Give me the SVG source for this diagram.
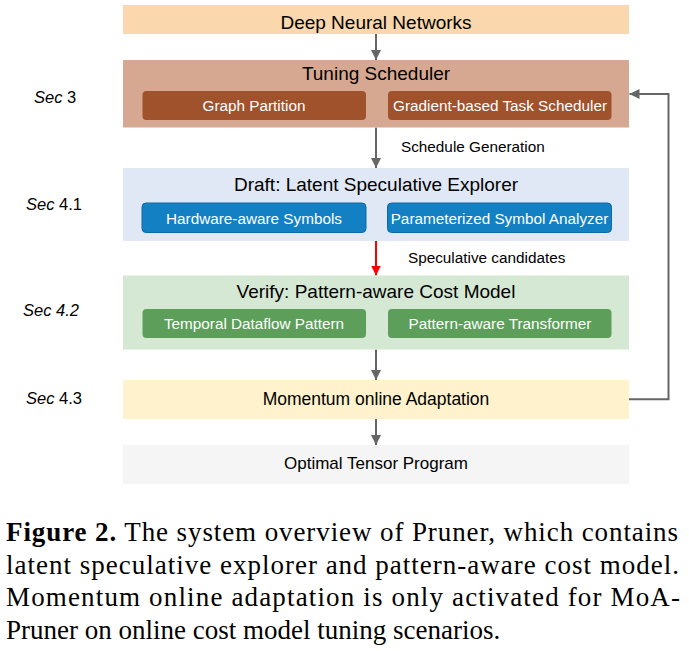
<svg xmlns="http://www.w3.org/2000/svg" width="689" height="651" viewBox="0 0 689 651">
<defs>
<style>
.t{font-family:"Liberation Sans",Arial,sans-serif;fill:#000;text-anchor:middle}
.title{font-size:19px}
.in{font-family:"Liberation Sans",Arial,sans-serif;font-size:15.3px;fill:#fff;text-anchor:middle}
.lbl{font-family:"Liberation Sans",Arial,sans-serif;font-size:15.3px;fill:#000}
.sec{font-family:"Liberation Sans",Arial,sans-serif;font-size:16.5px;fill:#000}
.cap{font-family:"Liberation Serif","Times New Roman",serif;font-size:27px;fill:#000}
.conn{stroke:#666;stroke-width:2;fill:none}
</style>
<marker id="ah" viewBox="0 0 10 10" refX="10" refY="5" markerWidth="5" markerHeight="5" orient="auto" markerUnits="strokeWidth">
<path d="M0,0 L10,5 L0,10 Z" fill="#666"/>
</marker>
<marker id="ahr" viewBox="0 0 10 10" refX="10" refY="5" markerWidth="5" markerHeight="5" orient="auto" markerUnits="strokeWidth">
<path d="M0,0 L10,5 L0,10 Z" fill="#f00"/>
</marker>
</defs>
<rect width="689" height="651" fill="#fff"/>

<g id="connectors">
<line class="conn" x1="376" y1="34" x2="376" y2="60" marker-end="url(#ah)"/>
<line class="conn" x1="376" y1="127.5" x2="376" y2="168" marker-end="url(#ah)"/>
<line x1="376" y1="241" x2="376" y2="275.5" stroke="#f00" stroke-width="2" marker-end="url(#ahr)"/>
<line class="conn" x1="376" y1="349.5" x2="376" y2="380" marker-end="url(#ah)"/>
<line class="conn" x1="376" y1="419" x2="376" y2="445" marker-end="url(#ah)"/>
<polyline class="conn" points="629,399.3 668.5,399.3 668.5,94 629.5,94" marker-end="url(#ah)"/>
<text class="lbl" x="401" y="152">Schedule Generation</text>
<text class="lbl" x="408" y="262.5">Speculative candidates</text>
</g>

<g id="dnn">
<rect x="123" y="5" width="506" height="29" fill="#FAD7AC"/>
<text class="t title" x="376" y="28.5">Deep Neural Networks</text>
</g>

<g id="tuning">
<rect x="123" y="60" width="506" height="67.5" fill="#D6A891"/>
<text class="t title" x="376" y="80">Tuning Scheduler</text>
<g id="graph-partition">
<rect x="142.5" y="91" width="223.5" height="29" rx="4" fill="#A0522D"/>
<text class="in" x="254" y="111">Graph Partition</text>
</g>
<g id="task-scheduler">
<rect x="388" y="91" width="223.5" height="29" rx="4" fill="#A0522D"/>
<text class="in" x="500" y="111">Gradient-based Task Scheduler</text>
</g>
</g>

<g id="draft">
<rect x="123" y="168" width="506" height="73" fill="#DFE8F4"/>
<text class="t title" x="376" y="191">Draft: Latent Speculative Explorer</text>
<g id="hw-symbols">
<rect x="142" y="203" width="224" height="29.5" rx="4" fill="#1380C4" stroke="#0E6AA6" stroke-width="1"/>
<text class="in" x="254" y="223.5">Hardware-aware Symbols</text>
</g>
<g id="symbol-analyzer">
<rect x="387.5" y="203" width="224" height="29.5" rx="4" fill="#1380C4" stroke="#0E6AA6" stroke-width="1"/>
<text class="in" x="499.5" y="223.5">Parameterized Symbol Analyzer</text>
</g>
</g>

<g id="verify">
<rect x="123" y="275.5" width="506" height="74" fill="#D5E8D4"/>
<text class="t title" x="376" y="298">Verify: Pattern-aware Cost Model</text>
<g id="dataflow">
<rect x="142.5" y="309" width="223.5" height="29" rx="4" fill="#5C9E5A"/>
<text class="in" x="254" y="329.3">Temporal Dataflow Pattern</text>
</g>
<g id="transformer">
<rect x="388" y="309" width="223.5" height="29" rx="4" fill="#5C9E5A"/>
<text class="in" x="500" y="329.3">Pattern-aware Transformer</text>
</g>
</g>

<g id="momentum">
<rect x="123" y="380" width="506" height="39" fill="#FFF2CC"/>
<text class="t" x="376" y="405" font-size="17.5">Momentum online Adaptation</text>
</g>

<g id="optimal">
<rect x="123" y="445" width="506" height="39" fill="#F5F5F5"/>
<text class="t" x="376" y="469" font-size="17">Optimal Tensor Program</text>
</g>

<g id="sections">
<text class="sec" x="34" y="103"><tspan font-style="italic">Sec</tspan> 3</text>
<text class="sec" x="26" y="209.5"><tspan font-style="italic">Sec</tspan> 4.1</text>
<text class="sec" x="23" y="316" font-style="italic">Sec 4.2</text>
<text class="sec" x="26" y="404"><tspan font-style="italic">Sec</tspan> 4.3</text>
</g>

<g id="caption">
<text class="cap" x="6" y="541" textLength="672" lengthAdjust="spacing"><tspan font-weight="bold">Figure 2.</tspan> The system overview of Pruner, which contains</text>
<text class="cap" x="6" y="573.5" textLength="673" lengthAdjust="spacing">latent speculative explorer and pattern-aware cost model.</text>
<text class="cap" x="6" y="606" textLength="674" lengthAdjust="spacing">Momentum online adaptation is only activated for MoA-</text>
<text class="cap" x="6" y="638.5">Pruner on online cost model tuning scenarios.</text>
</g>
</svg>
